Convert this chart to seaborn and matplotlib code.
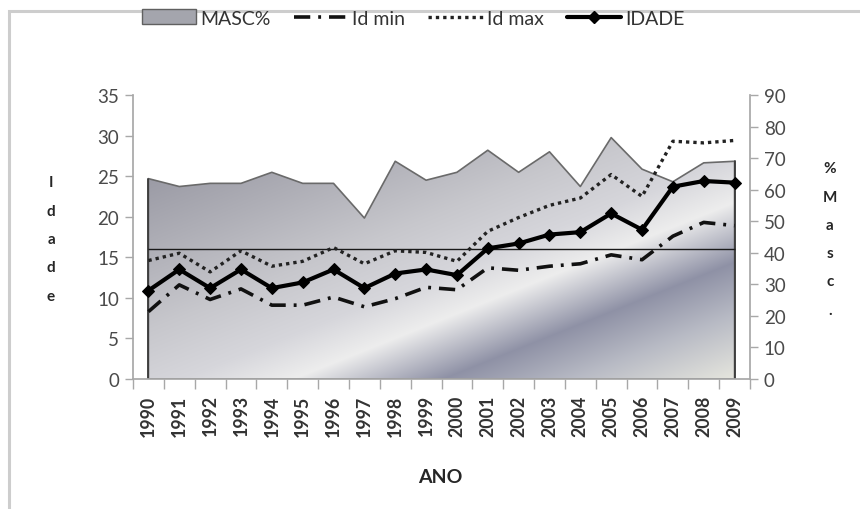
import numpy as np
import pandas as pd
import matplotlib
matplotlib.use("Agg")
import matplotlib.pyplot as plt
from matplotlib.patches import Patch, Rectangle
from matplotlib.lines import Line2D
import seaborn as sns

# ---- data ---------------------------------------------------------------
anos = ["1990", "1991", "1992", "1993", "1994", "1995", "1996", "1997", "1998", "1999",
        "2000", "2001", "2002", "2003", "2004", "2005", "2006", "2007", "2008", "2009"]
masc_pct = [63.5, 61.0, 62.0, 62.0, 65.5, 62.0, 62.0, 51.0, 69.0, 63.0,
            65.5, 72.5, 65.5, 72.0, 61.0, 76.5, 66.5, 62.5, 68.5, 69.0]
idade = [10.9, 13.5, 11.2, 13.5, 11.2, 11.9, 13.5, 11.2, 13.0, 13.5,
         12.8, 16.1, 16.7, 17.8, 18.1, 20.4, 18.4, 23.7, 24.4, 24.2]
id_max = [14.6, 15.5, 13.2, 15.8, 13.9, 14.5, 16.2, 14.2, 15.8, 15.6,
          14.5, 18.2, 19.9, 21.4, 22.3, 25.2, 22.5, 29.3, 29.1, 29.4]
id_min = [8.3, 11.6, 9.8, 11.1, 9.1, 9.1, 10.1, 8.9, 9.9, 11.3,
          11.0, 13.7, 13.4, 13.9, 14.2, 15.3, 14.7, 17.6, 19.3, 18.9]
idade_ref = 16.0

df = pd.DataFrame({"ano": anos, "pos": np.arange(len(anos)), "masc": masc_pct,
                   "idade": idade, "id_max": id_max, "id_min": id_min})

# ---- style ----------------------------------------------------------------
sns.set_theme(style="white")
plt.rcParams["font.family"] = ["Lato", "DejaVu Sans"]
TXT = "#4a4a4a"
SPINE = "#a8a8a8"

W, H = 860, 510
fig = plt.figure(figsize=(W / 100, H / 100), dpi=100)
fig.patch.set_facecolor("white")
fig.patches.append(Rectangle((9 / W, -0.05), 1.2, 1.05 - 12 / H, transform=fig.transFigure,
                             fill=False, edgecolor="#cdcdcd", lw=2.2, zorder=0))

x0, x1, y0, y1 = 133, 750, 96, 380
ax2 = fig.add_axes([x0 / W, 1 - y1 / H, (x1 - x0) / W, (y1 - y0) / H])
ax = ax2.twinx()
# lines on top of the area
ax.set_zorder(ax2.get_zorder() + 1)
ax.patch.set_visible(False)

n = len(anos)
xlim = (-0.5, n - 0.5)

# ---- MASC% area with metallic gradient ------------------------------------
ax2.set_xlim(*xlim)
ax2.set_ylim(0, 90)
area = ax2.fill_between(df["pos"], 0, df["masc"], facecolor="none",
                        edgecolor="#6a6a6a", lw=1.2, zorder=3)
ax2.plot([0, 0], [0, masc_pct[0]], color="#3a3a3a", lw=1.3, zorder=4)
ax2.plot([n - 1, n - 1], [0, masc_pct[-1]], color="#3a3a3a", lw=1.3, zorder=4)

wpx, hpx = x1 - x0, y1 - y0
u = np.arange(wpx) + 0.5
v = (hpx - np.arange(hpx) - 0.5)
U, V = np.meshgrid(u, v)
t = U - V / 0.40
stops_t = [-480, -300, -110, 50, 160, 310, 440, 600]
stops_c = np.array([(0.61, 0.61, 0.65), (0.69, 0.69, 0.72), (0.78, 0.78, 0.80),
                    (0.84, 0.84, 0.86), (0.93, 0.93, 0.93), (0.56, 0.57, 0.65),
                    (0.72, 0.73, 0.77), (0.90, 0.90, 0.87)])
img = np.dstack([np.interp(t, stops_t, stops_c[:, k]) for k in range(3)])
im = ax2.imshow(img, extent=(xlim[0], xlim[1], 0, 90), origin="upper",
                aspect="auto", zorder=2, interpolation="bilinear")
im.set_clip_path(area.get_paths()[0], transform=ax2.transData)

# ---- age lines (left axis) -------------------------------------------------
ax.set_xlim(*xlim)
ax.set_ylim(0, 35)
ax.hlines(idade_ref, 0, n - 1, color="#1a1a1a", lw=1.0, zorder=2)

sns.lineplot(data=df, x="pos", y="id_min", ax=ax, color="#111111", lw=2.6, zorder=3)
ax.lines[-1].set_dashes([4.5, 2.2, 0.8, 2.2])
sns.lineplot(data=df, x="pos", y="id_max", ax=ax, color="#222222", lw=2.4, zorder=3)
ax.lines[-1].set_dashes([1, 1.2])
sns.lineplot(data=df, x="pos", y="idade", ax=ax, color="#000000", lw=3.0,
             marker="D", markersize=6.5, markeredgecolor="black", zorder=4)

# ---- axes / ticks -----------------------------------------------------------
# left axis labels belong to the age scale, right to MASC%
ax.yaxis.tick_left()
ax.yaxis.set_label_position("left")
ax2.yaxis.tick_right()
ax.set_yticks(range(0, 36, 5))
ax2.set_yticks(range(0, 91, 10))
for a in (ax, ax2):
    a.set_xlabel("")
    a.set_ylabel("")
    for s in a.spines.values():
        s.set_visible(False)

ax.spines["left"].set_visible(True)
ax.spines["left"].set_color(SPINE)
ax2.spines["right"].set_visible(True)
ax2.spines["right"].set_color(SPINE)
ax2.spines["bottom"].set_visible(True)
ax2.spines["bottom"].set_color(SPINE)
ax2.spines["bottom"].set_zorder(5)

ax.tick_params(axis="y", which="major", left=True, right=False, length=6, width=1,
               color=SPINE, labelsize=13.5, labelcolor=TXT, pad=4, direction="out")
ax2.tick_params(axis="y", which="major", right=True, left=False, length=6, width=1,
                color=SPINE, labelsize=13.5, labelcolor=TXT, pad=4, direction="out")

ax.tick_params(axis="x", which="both", bottom=False, labelbottom=False)
ax2.set_xticks(df["pos"])
ax2.set_xticklabels(anos, rotation=90)
ax2.set_xticks(np.arange(-0.5, n, 1.0), minor=True)
ax2.tick_params(axis="x", which="major", bottom=True, length=0, labelsize=12.8,
                labelcolor="#333333", pad=11)
ax2.tick_params(axis="x", which="minor", bottom=True, length=7, width=1,
                color=SPINE, direction="out")
for lab in ax2.get_xticklabels():
    lab.set_fontweight("bold")

# ---- titles / axis labels ---------------------------------------------------
fig.text(440 / W, 1 - 478 / H, "ANO", ha="center", va="center",
         fontsize=14, fontweight="bold", color="#262626")
fig.text(51 / W, 1 - 240 / H, "I\nd\na\nd\ne", ha="center", va="center",
         fontsize=11, fontweight="bold", color="#262626", linespacing=2.3)
fig.text(830 / W, 1 - 240 / H, "%\nM\na\ns\nc\n.", ha="center", va="center",
         fontsize=11, fontweight="bold", color="#262626", linespacing=2.3)

# ---- legend ----------------------------------------------------------------
handles = [
    Patch(facecolor="#a4a5ad", edgecolor="#606060", lw=1),
    Line2D([], [], color="#111111", lw=2.6, dashes=[4.5, 2.2, 0.8, 2.2]),
    Line2D([], [], color="#222222", lw=2.4, dashes=[1, 1.2]),
    Line2D([], [], color="black", lw=3.0, marker="D", markersize=6.5),
]
labels = ["MASC%", "Id min", "Id max", "IDADE"]
fig.legend(handles, labels, loc="center", bbox_to_anchor=(413 / W, 1 - 19 / H),
           ncol=4, frameon=False, fontsize=14, handlelength=2.8, handleheight=0.8,
           handletextpad=0.2, columnspacing=1.2, labelcolor="#333333")

fig.savefig("out.png", dpi=100, facecolor="white")
